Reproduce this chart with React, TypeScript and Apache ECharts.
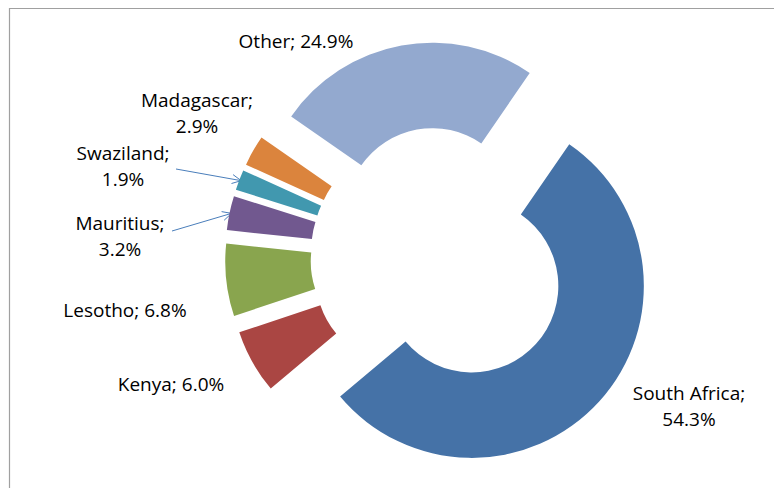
import React, { useEffect, useRef } from "react";
import * as echarts from "echarts";

// ---- data ----
const categories = ["South Africa", "Kenya", "Lesotho", "Mauritius", "Swaziland", "Madagascar", "Other"];
const shares = [54.3, 6.0, 6.8, 3.2, 1.9, 2.9, 24.9];
const colors = ["#4572A7", "#AA4643", "#89A54E", "#71588F", "#4198AF", "#DB843D", "#93A9CF"];
const twoLineLabels = ["South Africa", "Madagascar", "Swaziland", "Mauritius"];
const arrowLabels = ["Swaziland", "Mauritius"];

// ---- layout ----
const CENTER: [number, number] = [440, 257];
const INNER_R = 86.5;
const OUTER_R = 172;
const EXPLODE = 43;
const START_CW_FROM_TOP = 34.5; // degrees, clockwise from 12 o'clock
const FONT = "'Open Sans', 'Noto Sans', sans-serif";
const FONT_SIZE = 19;

const LABEL_POS: Record<string, [number, number]> = {
  "South Africa": [689, 406],
  Kenya: [171, 384],
  Lesotho: [125, 310],
  Mauritius: [120, 236],
  Swaziland: [123, 166],
  Madagascar: [197, 113],
  Other: [296, 41],
};
const ARROW_TAIL: Record<string, [number, number]> = {
  Swaziland: [176, 169],
  Mauritius: [172, 231],
};

function labelText(name: string, value: number) {
  return twoLineLabels.includes(name)
    ? `${name};\n${value.toFixed(1)}%`
    : `${name}; ${value.toFixed(1)}%`;
}

function buildLabels() {
  return categories.map((name, i) => {
    const pos = LABEL_POS[name];
    return {
      type: "text",
      x: pos[0],
      y: pos[1],
      silent: true,
      style: {
        text: labelText(name, shares[i]),
        fill: "#000000",
        fontFamily: FONT,
        fontSize: FONT_SIZE,
        lineHeight: 26,
        align: "center",
        verticalAlign: "middle",
      },
    };
  });
}

function buildArrows() {
  const total = shares.reduce((a, b) => a + b, 0);
  let cum = 0;
  const els: any[] = [];
  shares.forEach((v, i) => {
    const mid = ((START_CW_FROM_TOP + ((cum + v / 2) / total) * 360) * Math.PI) / 180;
    cum += v;
    const name = categories[i];
    if (!arrowLabels.includes(name)) return;
    const dist = EXPLODE + OUTER_R - 2;
    const tip = [CENTER[0] + Math.sin(mid) * dist, CENTER[1] - Math.cos(mid) * dist];
    const tail = ARROW_TAIL[name];
    const dx = tip[0] - tail[0];
    const dy = tip[1] - tail[1];
    const len = Math.hypot(dx, dy);
    const ux = dx / len, uy = dy / len;
    const px = -uy, py = ux;
    const h = 9, w = 4.5;
    const p1 = [tip[0] - ux * h + px * w, tip[1] - uy * h + py * w];
    const p2 = [tip[0] - ux * h - px * w, tip[1] - uy * h - py * w];
    els.push({
      type: "line",
      shape: { x1: tail[0], y1: tail[1], x2: tip[0], y2: tip[1] },
      style: { stroke: "#4A7EBB", lineWidth: 1 },
      silent: true,
    });
    els.push({
      type: "polyline",
      shape: { points: [p1, tip, p2] },
      style: { stroke: "#4A7EBB", lineWidth: 1, fill: "none" },
      silent: true,
    });
  });
  return els;
}

export default function App() {
  const ref = useRef<HTMLDivElement>(null);

  useEffect(() => {
    document.body.style.margin = "0";
    if (!ref.current) return;
    const chart = echarts.init(ref.current, null, { renderer: "svg" });
    chart.setOption({
      animation: false,
      backgroundColor: "#ffffff",
      graphic: [
        {
          type: "rect",
          shape: { x: 9.5, y: 8.5, width: 820, height: 600 },
          style: { fill: "none", stroke: "#a0a0a0", lineWidth: 1.2 },
          silent: true,
          z: -1,
        },
        ...buildArrows(),
        ...buildLabels(),
      ],
      series: [
        {
          type: "pie",
          center: CENTER,
          radius: [INNER_R, OUTER_R],
          startAngle: 90 - START_CW_FROM_TOP,
          clockwise: true,
          selectedMode: "multiple",
          selectedOffset: EXPLODE,
          avoidLabelOverlap: false,
          emphasis: { scale: false },
          select: { itemStyle: { borderWidth: 0 } },
          itemStyle: { borderWidth: 0 },
          label: { show: false },
          labelLine: { show: false },
          data: categories.map((name, i) => ({
            name,
            value: shares[i],
            selected: true,
            itemStyle: { color: colors[i] },
          })),
        },
      ],
    });
    return () => chart.dispose();
  }, []);

  return <div ref={ref} style={{ width: 774, height: 488 }} />;
}
